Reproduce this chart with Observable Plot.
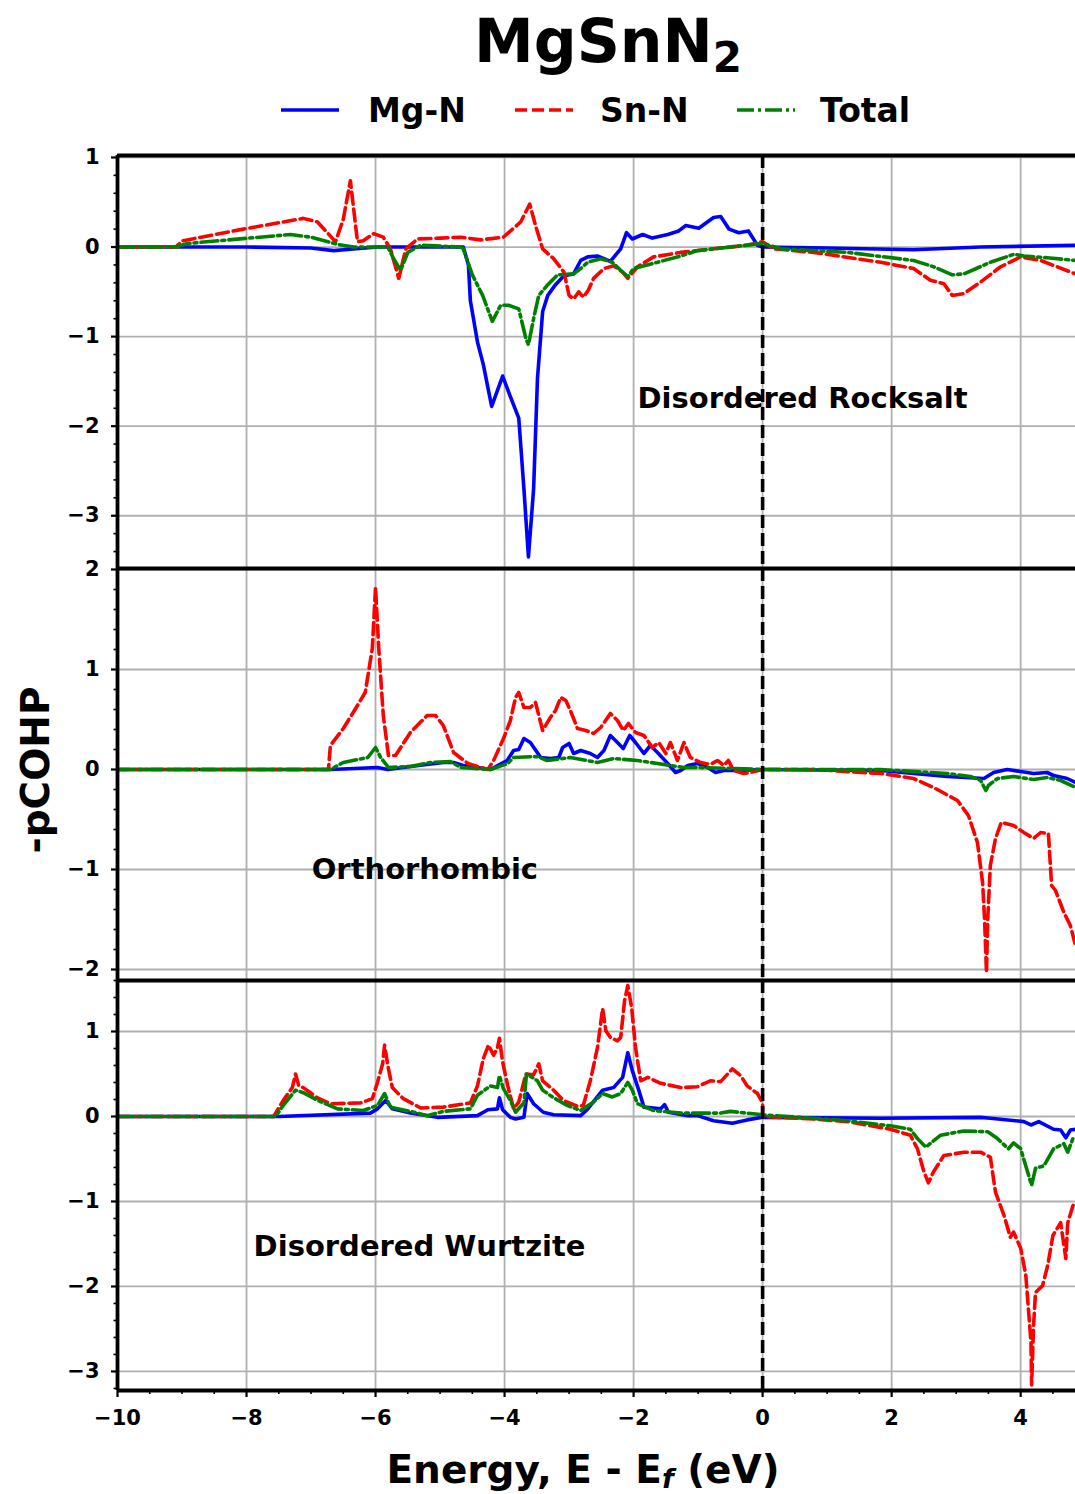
<!DOCTYPE html>
<html>
<head>
<meta charset="utf-8">
<script src="https://cdn.jsdelivr.net/npm/d3@7"></script>
<script src="https://cdn.jsdelivr.net/npm/@observablehq/plot@0.6"></script>
<style>
  html, body { margin: 0; padding: 0; background: white; }
  body { width: 1075px; height: 1494px; position: relative; overflow: hidden;
         font-family: "DejaVu Sans", sans-serif; font-weight: bold; color: black; }
  .abs { position: absolute; white-space: nowrap; line-height: 1; }
  .panel { position: absolute; left: 0; }
</style>
</head>
<body>
<script>
// ---------------- data ----------------
const seriesNames = ["Mg-N", "Sn-N", "Total"];
const seriesColors = ["#0000ff", "#ff0000", "#008000"];
const seriesDash = [null, "12,5", "17,4,3,4"];

const xMajor = [-10, -8, -6, -4, -2, 0, 2, 4];
const xMinor = [-9.5, -9, -8.5, -7.5, -7, -6.5, -5.5, -5, -4.5, -3.5, -3, -2.5, -1.5, -1, -0.5, 0.5, 1, 1.5, 2.5, 3, 3.5, 4.5];

const panelLabels = ["Disordered Rocksalt", "Orthorhombic", "Disordered Wurtzite"];
const panelLabelX = [-1.94, -6.99, -7.89];
const panelLabelY = [-1.69, -1.0, -1.53];

const rsYMajor = [-3, -2, -1, 0, 1];
const orYMajor = [-2, -1, 0, 1, 2];
const wzYMajor = [-3, -2, -1, 0, 1];

// Disordered Rocksalt
const rsMgN = [[-10,0],[-8,0],[-7,-0.01],[-6.65,-0.04],[-6.3,-0.02],[-5.97,0],[-5,0],[-4.64,0],[-4.56,-0.2],[-4.53,-0.6],[-4.42,-1.06],[-4.33,-1.31],[-4.2,-1.78],[-4.03,-1.44],[-3.91,-1.67],[-3.78,-1.91],[-3.7,-2.7],[-3.63,-3.46],[-3.55,-2.7],[-3.49,-1.47],[-3.41,-0.72],[-3.33,-0.54],[-3.21,-0.42],[-3.08,-0.32],[-2.93,-0.3],[-2.82,-0.15],[-2.71,-0.11],[-2.56,-0.1],[-2.36,-0.16],[-2.2,-0.02],[-2.11,0.16],[-2.02,0.09],[-1.86,0.14],[-1.71,0.1],[-1.47,0.14],[-1.3,0.18],[-1.19,0.24],[-0.99,0.21],[-0.76,0.33],[-0.65,0.34],[-0.52,0.2],[-0.37,0.16],[-0.22,0.18],[-0.08,0.02],[0,0],[1,-0.01],[2.34,-0.03],[3.38,0],[4.85,0.02]];
const rsSnN = [[-10,0],[-9.1,0],[-8.99,0.07],[-8.05,0.2],[-7.12,0.32],[-6.9,0.28],[-6.62,0.06],[-6.5,0.31],[-6.39,0.74],[-6.28,0.06],[-6.19,0.07],[-6.03,0.15],[-5.88,0.11],[-5.77,-0.02],[-5.64,-0.35],[-5.53,-0.02],[-5.35,0.09],[-4.99,0.1],[-4.68,0.11],[-4.37,0.08],[-4.02,0.11],[-3.75,0.28],[-3.61,0.48],[-3.52,0.24],[-3.41,-0.02],[-3.24,-0.13],[-3.08,-0.28],[-3.0,-0.54],[-2.93,-0.58],[-2.85,-0.5],[-2.78,-0.56],[-2.7,-0.48],[-2.62,-0.35],[-2.46,-0.24],[-2.31,-0.21],[-2.17,-0.28],[-2.09,-0.35],[-1.94,-0.22],[-1.69,-0.11],[-1.27,-0.06],[-0.76,-0.02],[-0.24,0.02],[0,0.06],[0.17,-0.02],[0.79,-0.06],[1.83,-0.17],[2.34,-0.24],[2.6,-0.37],[2.81,-0.41],[2.94,-0.54],[3.12,-0.52],[3.38,-0.39],[3.69,-0.22],[4.0,-0.11],[4.31,-0.15],[4.85,-0.3]];
const rsTotal = [[-10,0],[-9.1,0],[-8.91,0.04],[-7.32,0.14],[-7.0,0.11],[-6.59,0.03],[-6.34,0],[-5.81,0],[-5.72,-0.13],[-5.61,-0.26],[-5.5,-0.06],[-5.3,0.02],[-4.68,0],[-4.64,-0.02],[-4.5,-0.31],[-4.34,-0.54],[-4.19,-0.83],[-4.06,-0.65],[-3.94,-0.65],[-3.78,-0.69],[-3.67,-1.02],[-3.63,-1.09],[-3.55,-0.8],[-3.47,-0.54],[-3.33,-0.42],[-3.18,-0.31],[-2.93,-0.3],[-2.82,-0.24],[-2.71,-0.17],[-2.51,-0.13],[-2.33,-0.17],[-2.2,-0.26],[-2.09,-0.33],[-2.0,-0.24],[-1.63,-0.17],[-1.27,-0.1],[-1.01,-0.04],[-0.5,0],[-0.14,0.03],[0,0.04],[0.28,-0.02],[1.32,-0.06],[2.34,-0.15],[2.65,-0.22],[2.94,-0.31],[3.12,-0.3],[3.53,-0.17],[3.9,-0.08],[4.05,-0.1],[4.41,-0.12],[4.85,-0.15]];

// Orthorhombic
const orMgN = [[-10,0],[-6.7,0],[-5.97,0.02],[-5.81,0],[-5.46,0.03],[-4.95,0.07],[-4.79,0.07],[-4.64,0.04],[-4.22,0],[-3.96,0.09],[-3.86,0.19],[-3.78,0.2],[-3.7,0.31],[-3.6,0.27],[-3.44,0.12],[-3.29,0.11],[-3.16,0.12],[-3.1,0.22],[-3.0,0.26],[-2.93,0.16],[-2.82,0.19],[-2.67,0.16],[-2.56,0.12],[-2.46,0.19],[-2.36,0.34],[-2.25,0.27],[-2.16,0.21],[-2.06,0.34],[-1.97,0.27],[-1.84,0.16],[-1.74,0.24],[-1.63,0.17],[-1.47,0.06],[-1.35,-0.03],[-1.27,-0.01],[-1.16,0.04],[-1.01,0.06],[-0.85,0.02],[-0.73,-0.03],[-0.6,-0.01],[-0.39,-0.01],[0,0],[1.83,-0.01],[2.34,-0.04],[2.86,-0.07],[3.43,-0.09],[3.58,-0.03],[3.79,0],[4.0,-0.02],[4.2,-0.04],[4.41,-0.03],[4.51,-0.06],[4.72,-0.09],[4.85,-0.13]];
const orSnN = [[-10,0],[-6.73,0],[-6.7,0.24],[-6.5,0.41],[-6.28,0.64],[-6.16,0.77],[-6.05,1.21],[-6.0,1.82],[-5.95,1.21],[-5.88,0.54],[-5.8,0.14],[-5.69,0.14],[-5.46,0.37],[-5.2,0.54],[-5.07,0.54],[-4.95,0.44],[-4.79,0.17],[-4.57,0.06],[-4.26,0],[-4.17,0.09],[-4.01,0.32],[-3.91,0.49],[-3.83,0.72],[-3.78,0.77],[-3.7,0.62],[-3.6,0.62],[-3.52,0.67],[-3.41,0.39],[-3.29,0.52],[-3.21,0.59],[-3.13,0.72],[-3.05,0.69],[-2.98,0.59],[-2.87,0.41],[-2.74,0.39],[-2.62,0.36],[-2.51,0.42],[-2.36,0.56],[-2.25,0.49],[-2.16,0.39],[-2.08,0.46],[-1.97,0.37],[-1.84,0.34],[-1.71,0.22],[-1.61,0.27],[-1.5,0.16],[-1.43,0.27],[-1.32,0.09],[-1.22,0.27],[-1.12,0.12],[-0.96,0.07],[-0.81,0.05],[-0.7,0.09],[-0.6,0.04],[-0.53,0.09],[-0.45,-0.01],[-0.29,-0.04],[-0.19,-0.03],[0,0],[0.79,0],[1.83,-0.04],[2.34,-0.09],[2.65,-0.18],[3.02,-0.31],[3.19,-0.46],[3.33,-0.73],[3.41,-1.13],[3.44,-1.49],[3.47,-2.03],[3.49,-1.49],[3.53,-0.96],[3.61,-0.69],[3.7,-0.53],[3.89,-0.56],[4.05,-0.63],[4.2,-0.69],[4.31,-0.63],[4.43,-0.64],[4.48,-1.16],[4.54,-1.21],[4.67,-1.43],[4.77,-1.56],[4.85,-1.76]];
const orTotal = [[-10,0],[-6.7,0],[-6.5,0.07],[-6.12,0.12],[-6.0,0.22],[-5.92,0.12],[-5.8,0.02],[-5.46,0.03],[-5.15,0.07],[-4.84,0.08],[-4.68,0.02],[-4.22,0],[-3.95,0.06],[-3.86,0.12],[-3.49,0.13],[-3.34,0.09],[-2.98,0.12],[-2.56,0.07],[-2.31,0.11],[-1.94,0.09],[-1.63,0.06],[-1.22,0.02],[-0.96,0.02],[0,0],[1.83,0],[2.86,-0.04],[3.22,-0.07],[3.38,-0.11],[3.46,-0.21],[3.5,-0.16],[3.64,-0.09],[3.89,-0.07],[4.2,-0.1],[4.41,-0.08],[4.62,-0.11],[4.85,-0.18]];

// Disordered Wurtzite
const wzMgN = [[-10,0],[-7.5,0],[-6.08,0.04],[-5.97,0.09],[-5.84,0.19],[-5.74,0.09],[-5.46,0.04],[-5.04,-0.01],[-4.42,0.01],[-4.26,0.08],[-4.11,0.09],[-4.08,0.22],[-4.03,0.08],[-3.91,-0.01],[-3.83,-0.03],[-3.7,-0.01],[-3.65,0.27],[-3.55,0.15],[-3.4,0.05],[-3.24,0.02],[-2.82,0.01],[-2.71,0.09],[-2.48,0.31],[-2.31,0.34],[-2.17,0.46],[-2.09,0.75],[-2.02,0.54],[-1.92,0.31],[-1.84,0.11],[-1.58,0.09],[-1.52,0.14],[-1.46,0.05],[-1.16,0.01],[-1.01,0.01],[-0.76,-0.05],[-0.47,-0.08],[-0.24,-0.04],[0,-0.01],[1.83,-0.02],[3.38,-0.01],[3.53,-0.02],[4.05,-0.06],[4.16,-0.1],[4.28,-0.06],[4.51,-0.15],[4.62,-0.16],[4.7,-0.25],[4.77,-0.16],[4.85,-0.15]];
const wzSnN = [[-10,0],[-7.58,0],[-7.43,0.19],[-7.29,0.34],[-7.24,0.5],[-7.19,0.36],[-7.12,0.34],[-6.9,0.22],[-6.7,0.15],[-6.23,0.16],[-6.05,0.21],[-5.97,0.4],[-5.89,0.62],[-5.86,0.84],[-5.81,0.6],[-5.74,0.34],[-5.57,0.21],[-5.3,0.1],[-4.95,0.11],[-4.53,0.16],[-4.42,0.36],[-4.33,0.68],[-4.25,0.84],[-4.17,0.72],[-4.11,0.81],[-4.08,0.92],[-4.03,0.64],[-3.95,0.36],[-3.86,0.09],[-3.78,0.17],[-3.67,0.5],[-3.55,0.49],[-3.47,0.62],[-3.41,0.42],[-3.24,0.31],[-3.09,0.19],[-2.87,0.12],[-2.78,0.13],[-2.67,0.42],[-2.56,0.81],[-2.48,1.27],[-2.43,1.01],[-2.36,0.93],[-2.25,0.89],[-2.2,0.93],[-2.14,1.36],[-2.09,1.54],[-2.03,1.28],[-1.97,0.81],[-1.89,0.42],[-1.78,0.46],[-1.58,0.39],[-1.27,0.34],[-1.01,0.35],[-0.81,0.42],[-0.65,0.41],[-0.47,0.56],[-0.34,0.48],[-0.24,0.36],[-0.08,0.27],[0,0.16],[0,0],[0.79,-0.03],[1.32,-0.06],[1.98,-0.15],[2.29,-0.22],[2.4,-0.38],[2.5,-0.65],[2.57,-0.78],[2.65,-0.65],[2.81,-0.46],[3.12,-0.42],[3.38,-0.42],[3.53,-0.48],[3.61,-0.89],[3.74,-1.16],[3.84,-1.42],[3.89,-1.36],[4.0,-1.55],[4.08,-1.87],[4.12,-2.26],[4.16,-2.66],[4.17,-3.16],[4.2,-2.46],[4.23,-2.07],[4.34,-1.99],[4.42,-1.75],[4.5,-1.4],[4.62,-1.25],[4.7,-1.67],[4.73,-1.25],[4.81,-1.05],[4.85,-1.01]];
const wzTotal = [[-10,0],[-7.55,0],[-7.43,0.13],[-7.24,0.31],[-7.12,0.28],[-6.9,0.19],[-6.59,0.09],[-6.19,0.07],[-5.97,0.13],[-5.86,0.27],[-5.77,0.11],[-5.46,0.06],[-5.2,0.01],[-4.95,0.06],[-4.53,0.09],[-4.42,0.25],[-4.22,0.36],[-4.11,0.34],[-4.08,0.48],[-4.02,0.33],[-3.91,0.19],[-3.83,0.05],[-3.7,0.16],[-3.66,0.5],[-3.57,0.46],[-3.49,0.42],[-3.41,0.31],[-3.24,0.22],[-3.03,0.13],[-2.82,0.07],[-2.62,0.17],[-2.48,0.27],[-2.33,0.23],[-2.2,0.27],[-2.09,0.4],[-2.02,0.31],[-1.94,0.15],[-1.69,0.07],[-1.27,0.04],[-0.65,0.04],[-0.5,0.06],[0,0.02],[1.32,-0.05],[1.98,-0.11],[2.29,-0.15],[2.4,-0.26],[2.53,-0.36],[2.76,-0.22],[3.12,-0.17],[3.49,-0.18],[3.64,-0.26],[3.81,-0.38],[3.89,-0.31],[4.0,-0.38],[4.11,-0.66],[4.17,-0.81],[4.23,-0.61],[4.36,-0.58],[4.51,-0.38],[4.67,-0.32],[4.73,-0.42],[4.81,-0.26],[4.85,-0.24]];

// ---------------- drawing ----------------
const fmt = d => (d < 0 ? "\u2212" + Math.abs(d) : String(d));
const xDomain = [-10, 4.85];
const LW = 3.6;

function minorTicks(lo, hi, majors) {
  const out = [];
  for (let v = Math.ceil(lo / 0.2) * 0.2; v <= hi + 1e-9; v += 0.2) {
    const r = Math.round(v * 10) / 10;
    if (!majors.some(m => Math.abs(m - r) < 1e-6)) out.push(r);
  }
  return out;
}

function panel({series, yDomain, yMajor, label, lx, ly, top, height, marginTop, marginBottom, bottomAxis}) {
  const marks = [
    Plot.gridX(xMajor, {stroke: "#b0b0b0", strokeOpacity: 1, strokeWidth: 1.8}),
    Plot.gridY(yMajor, {stroke: "#b0b0b0", strokeOpacity: 1, strokeWidth: 1.8}),
  ];
  series.forEach((s, i) => {
    marks.push(Plot.line(s, {
      x: d => d[0], y: d => d[1],
      stroke: seriesColors[i], strokeWidth: LW,
      strokeDasharray: seriesDash[i], strokeLinejoin: "round",
      clip: true
    }));
  });
  marks.push(Plot.ruleX([0], {stroke: "black", strokeWidth: 3.6, strokeDasharray: "13,5"}));
  marks.push(Plot.text([label], {x: () => lx, y: () => ly, text: d => d, textAnchor: "start",
    fontSize: 29, fontWeight: "bold", fill: "black", fontFamily: "DejaVu Sans"}));
  marks.push(Plot.axisY(yMajor, {tickSize: 6, tickPadding: 12, tickFormat: fmt, fontSize: 21,
    fontWeight: "bold", strokeWidth: 2.2, label: null}));
  marks.push(Plot.axisY(minorTicks(yDomain[0], yDomain[1], yMajor), {tickSize: 3.5, tickFormat: () => "",
    strokeWidth: 1.6, label: null}));
  marks.push(Plot.ruleY([yDomain[1]], {stroke: "black", strokeWidth: 3.8}));
  marks.push(Plot.ruleX([xDomain[0]], {stroke: "black", strokeWidth: 3.8}));
  if (bottomAxis) {
    marks.push(Plot.ruleY([yDomain[0]], {stroke: "black", strokeWidth: 3.8}));
    marks.push(Plot.axisX(xMajor, {anchor: "bottom", tickSize: 7, tickPadding: 13, tickFormat: fmt,
      fontSize: 21, fontWeight: "bold", strokeWidth: 2.2, label: null}));
    marks.push(Plot.axisX(xMinor, {anchor: "bottom", tickSize: 4, tickFormat: () => "",
      strokeWidth: 1.6, label: null}));
  }
  const svg = Plot.plot({
    width: 1075, height, marginLeft: 117, marginRight: 0, marginTop, marginBottom,
    style: {background: "transparent", overflow: "visible", fontFamily: "DejaVu Sans",
            fontWeight: "bold", fontSize: "21px"},
    x: bottomAxis ? {domain: xDomain} : {domain: xDomain, axis: null},
    y: {domain: yDomain},
    marks
  });
  const wrap = document.createElement("div");
  wrap.className = "panel";
  wrap.style.top = top + "px";
  wrap.appendChild(svg);
  document.body.appendChild(wrap);
}

panel({series: [rsMgN, rsSnN, rsTotal], yDomain: [-3.589, 1.022], yMajor: rsYMajor,
  label: panelLabels[0], lx: panelLabelX[0], ly: panelLabelY[0],
  top: 140, height: 428, marginTop: 15, marginBottom: 0});
panel({series: [orMgN, orSnN, orTotal], yDomain: [-2.11, 2.01], yMajor: orYMajor,
  label: panelLabels[1], lx: panelLabelX[1], ly: panelLabelY[1],
  top: 568, height: 412, marginTop: 0, marginBottom: 0});
panel({series: [wzMgN, wzSnN, wzTotal], yDomain: [-3.224, 1.6], yMajor: wzYMajor,
  label: panelLabels[2], lx: panelLabelX[2], ly: panelLabelY[2],
  top: 980, height: 514, marginTop: 0, marginBottom: 104, bottomAxis: true});

// title
const title = document.createElement("div");
title.className = "abs";
title.style.cssText = "left:608px; top:11px; font-size:60px; transform:translateX(-50%);";
title.innerHTML = 'MgSnN<span style="font-size:42px; position:relative; top:10px;">2</span>';
document.body.appendChild(title);

// legend
const legendLineX = [281, 515, 737];
const legendTextX = [368, 600, 820];
const legSvg = d3.create("svg").attr("width", 1075).attr("height", 30)
  .style("position", "absolute").style("left", "0px").style("top", "95px");
seriesNames.forEach((n, i) => {
  legSvg.append("line").attr("x1", legendLineX[i]).attr("x2", legendLineX[i] + 58)
    .attr("y1", 15).attr("y2", 15).attr("stroke", seriesColors[i]).attr("stroke-width", LW)
    .attr("stroke-dasharray", seriesDash[i]);
  const t = document.createElement("div");
  t.className = "abs";
  t.style.cssText = `left:${legendTextX[i]}px; top:94px; font-size:33px;`;
  t.textContent = n;
  document.body.appendChild(t);
});
document.body.appendChild(legSvg.node());

// axis titles
const ylab = document.createElement("div");
ylab.className = "abs";
ylab.style.cssText = "left:35px; top:770px; font-size:39px; transform:translate(-50%,-50%) rotate(-90deg);";
ylab.textContent = "-pCOHP";
document.body.appendChild(ylab);

const xlab = document.createElement("div");
xlab.className = "abs";
xlab.style.cssText = "left:583px; top:1469px; font-size:39px; transform:translate(-50%,-50%);";
xlab.innerHTML = 'Energy, E - E<span style="font-size:27px; font-style:italic; position:relative; top:5px;">f</span> (eV)';
document.body.appendChild(xlab);
</script>
</body>
</html>
